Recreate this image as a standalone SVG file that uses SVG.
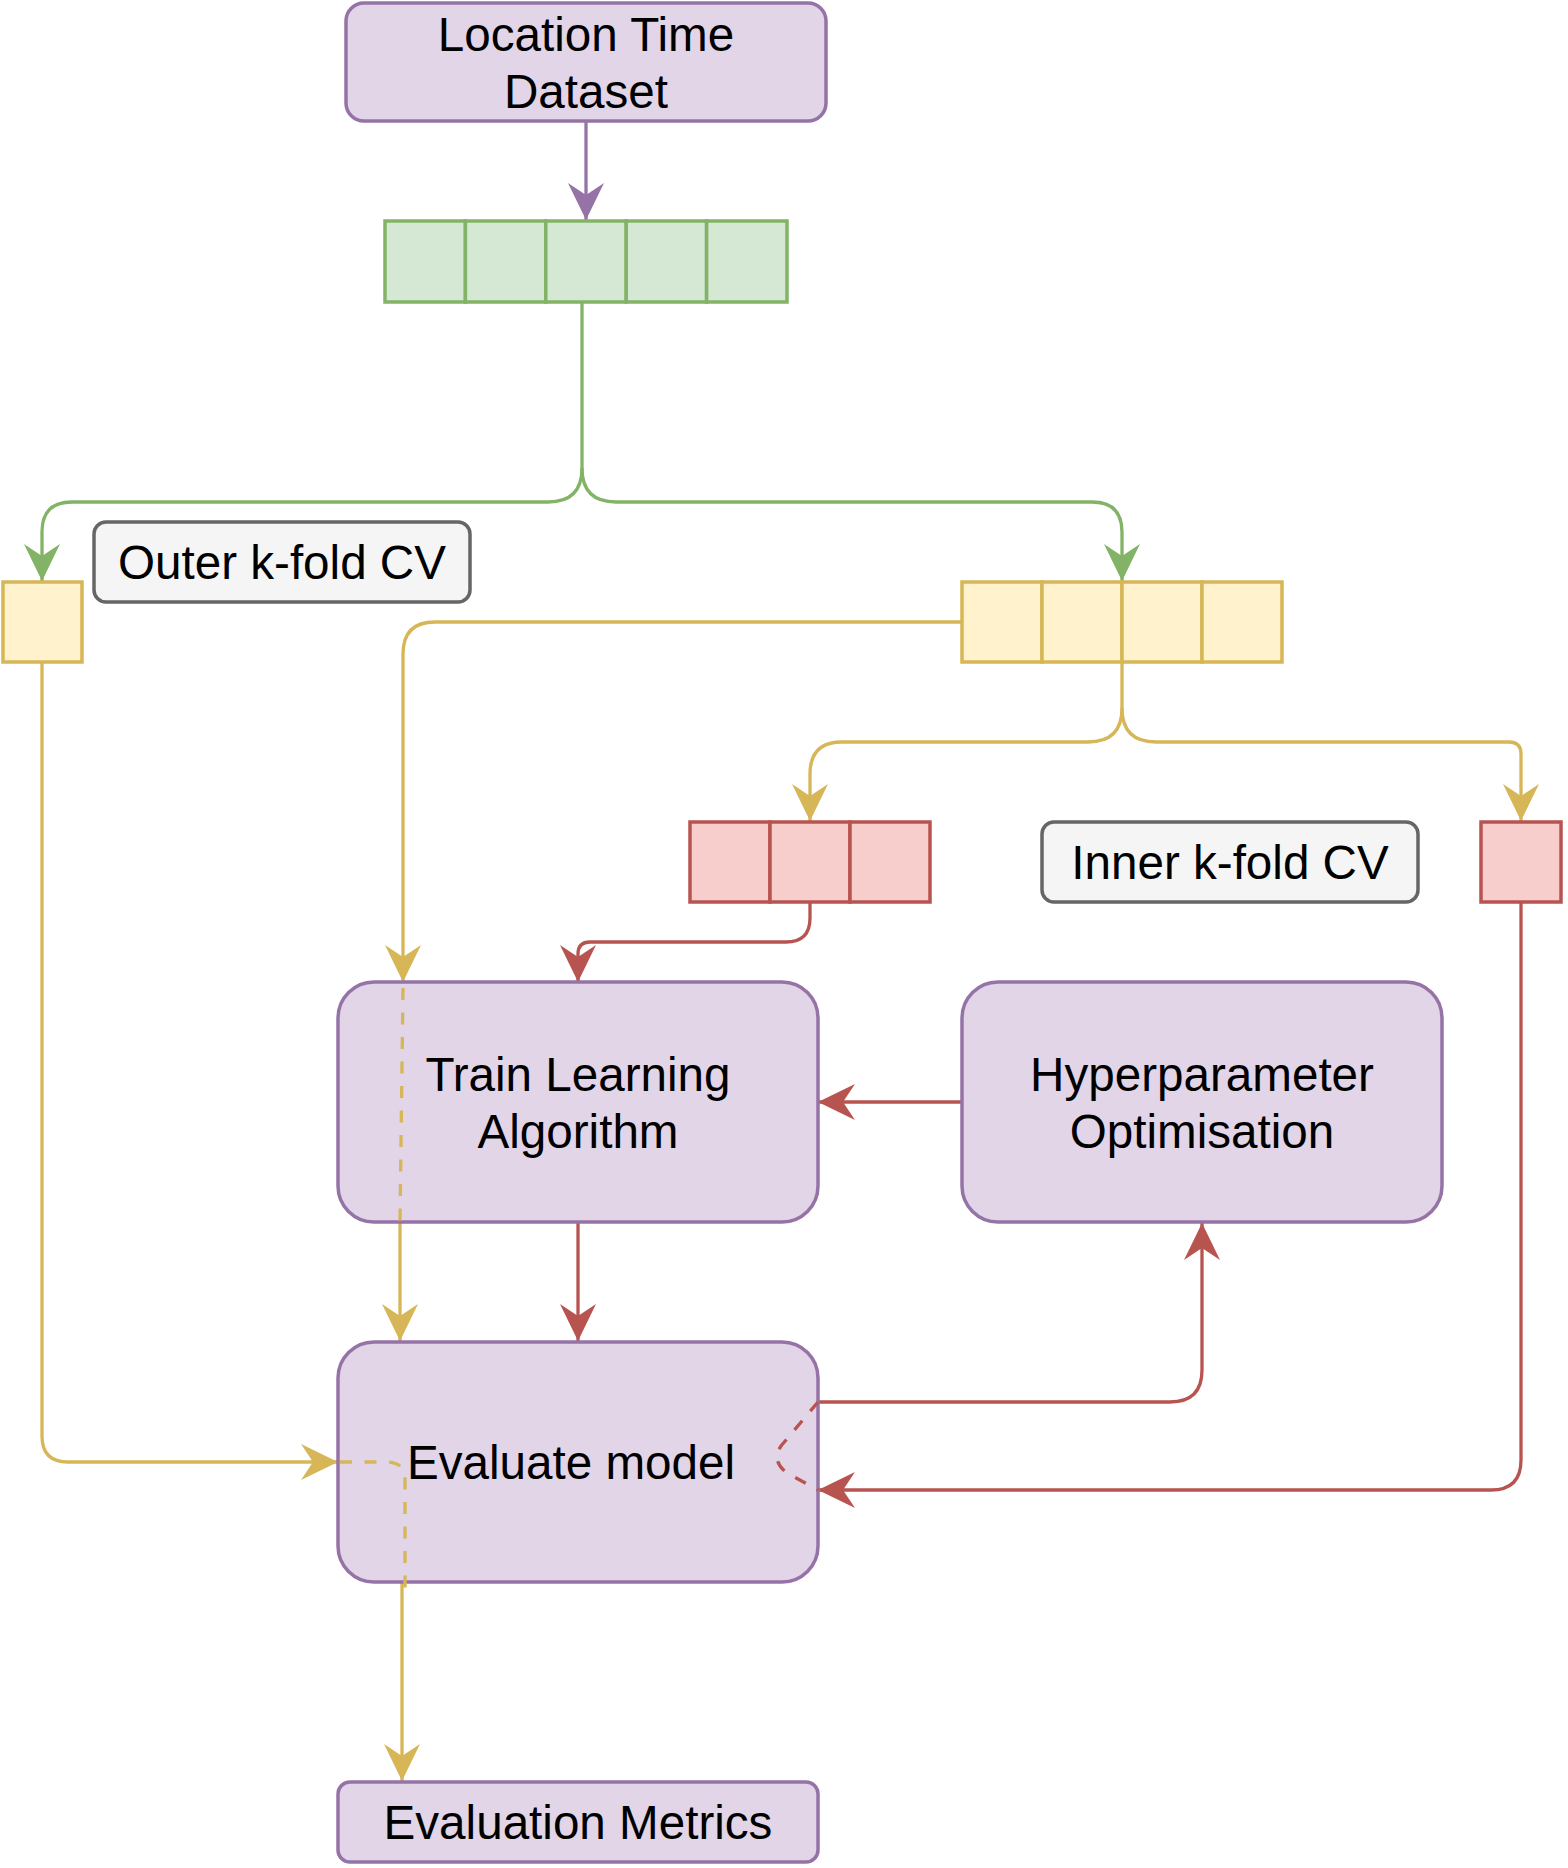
<svg xmlns="http://www.w3.org/2000/svg" width="1568" height="1868" viewBox="0 0 1568 1868">
<style>
.pn{fill:#e1d5e7;stroke:#9673a6;stroke-width:3.5}
.gn{fill:#d5e8d4;stroke:#82b366;stroke-width:3.5}
.yn{fill:#fff2cc;stroke:#d6b656;stroke-width:3.5}
.rn{fill:#f8cecc;stroke:#b85450;stroke-width:3.5}
.ln{fill:#f5f5f5;stroke:#666666;stroke-width:3.5}
.t{font-family:"Liberation Sans",Arial,Helvetica,sans-serif;font-size:47.6px;fill:#000;text-anchor:middle}
.e{fill:none;stroke-width:3.3}
.eg{stroke:#82b366}
.ey{stroke:#d6b656}
.er{stroke:#b85450}
.ep{stroke:#9673a6}
.d{stroke-dasharray:12 12.5}
</style>
<defs>
<marker id="aP" markerUnits="userSpaceOnUse" markerWidth="40" markerHeight="40" refX="0" refY="0" orient="auto" overflow="visible"><path d="M0,0 L-37,-18 L-25,0 L-37,18 Z" fill="#9673a6"/></marker>
<marker id="aG" markerUnits="userSpaceOnUse" markerWidth="40" markerHeight="40" refX="0" refY="0" orient="auto" overflow="visible"><path d="M0,0 L-37,-18 L-25,0 L-37,18 Z" fill="#82b366"/></marker>
<marker id="aY" markerUnits="userSpaceOnUse" markerWidth="40" markerHeight="40" refX="0" refY="0" orient="auto" overflow="visible"><path d="M0,0 L-37,-18 L-25,0 L-37,18 Z" fill="#d6b656"/></marker>
<marker id="aR" markerUnits="userSpaceOnUse" markerWidth="40" markerHeight="40" refX="0" refY="0" orient="auto" overflow="visible"><path d="M0,0 L-37,-18 L-25,0 L-37,18 Z" fill="#b85450"/></marker>
</defs>

<g id="connectors">
<path class="e ep" d="M586,122 L586,220" marker-end="url(#aP)"/>
<path class="e eg" d="M582,302 L582,468 Q582,502 548,502 L72,502 Q42,502 42,532 L42,581" marker-end="url(#aG)"/>
<path class="e eg" d="M582,468 Q582,502 616,502 L1092,502 Q1122,502 1122,532 L1122,581" marker-end="url(#aG)"/>
<path class="e ey" d="M962,622 L435,622 Q403,622 403,654 L403,982" marker-end="url(#aY)"/>
<path class="e ey" d="M400,1222 L400,1341" marker-end="url(#aY)"/>
<path class="e ey" d="M1122,662 L1122,708 Q1122,742 1088,742 L842,742 Q810,742 810,774 L810,821" marker-end="url(#aY)"/>
<path class="e ey" d="M1122,708 Q1122,742 1156,742 L1509,742 Q1521,742 1521,754 L1521,821" marker-end="url(#aY)"/>
<path class="e er" d="M810,902 L810,918 Q810,942 786,942 L590,942 Q578,942 578,954 L578,982" marker-end="url(#aR)"/>
<path class="e er" d="M961,1102 L818,1102" marker-end="url(#aR)"/>
<path class="e er" d="M578,1222 L578,1341" marker-end="url(#aR)"/>
<path class="e er" d="M818,1402 L1170,1402 Q1202,1402 1202,1370 L1202,1223" marker-end="url(#aR)"/>
<path class="e er" d="M1521,902 L1521,1460 Q1521,1490 1491,1490 L818,1490" marker-end="url(#aR)"/>
<path class="e ey" d="M42,662 L42,1436 Q42,1462 68,1462 L338,1462" marker-end="url(#aY)"/>
<path class="e ey" d="M402,1583 L402,1781" marker-end="url(#aY)"/>
</g>

<g id="dataset"><rect class="pn" x="346" y="3" width="480" height="118" rx="18"/>
<text class="t" x="586" y="51">Location Time</text><text class="t" x="586" y="108">Dataset</text></g>

<g id="green-folds">
<rect class="gn" x="385" y="221" width="80.4" height="81"/>
<rect class="gn" x="465.4" y="221" width="80.4" height="81"/>
<rect class="gn" x="545.8" y="221" width="80.4" height="81"/>
<rect class="gn" x="626.2" y="221" width="80.4" height="81"/>
<rect class="gn" x="706.6" y="221" width="80.4" height="81"/>
</g>

<g id="outer-test"><rect class="yn" x="3" y="582" width="79" height="80"/></g>
<g id="outer-label"><rect class="ln" x="94" y="522" width="376" height="80" rx="12"/>
<text class="t" x="282" y="579">Outer k-fold CV</text></g>

<g id="yellow-folds">
<rect class="yn" x="962" y="582" width="80" height="80"/>
<rect class="yn" x="1042" y="582" width="80" height="80"/>
<rect class="yn" x="1122" y="582" width="80" height="80"/>
<rect class="yn" x="1202" y="582" width="80" height="80"/>
</g>

<g id="red-folds">
<rect class="rn" x="690" y="822" width="80" height="80"/>
<rect class="rn" x="770" y="822" width="80" height="80"/>
<rect class="rn" x="850" y="822" width="80" height="80"/>
</g>
<g id="inner-label"><rect class="ln" x="1042" y="822" width="376" height="80" rx="12"/>
<text class="t" x="1230" y="879">Inner k-fold CV</text></g>
<g id="inner-test"><rect class="rn" x="1481" y="822" width="80" height="80"/></g>

<g id="train"><rect class="pn" x="338" y="982" width="480" height="240" rx="36"/>
<text class="t" x="578" y="1091">Train Learning</text><text class="t" x="578" y="1148">Algorithm</text></g>

<g id="hyper"><rect class="pn" x="962" y="982" width="480" height="240" rx="36"/>
<text class="t" x="1202" y="1091">Hyperparameter</text><text class="t" x="1202" y="1148">Optimisation</text></g>

<g id="evaluate"><rect class="pn" x="338" y="1342" width="480" height="240" rx="36"/>
<text class="t" x="571" y="1479">Evaluate model</text></g>

<g id="connectors-overlay">
<path class="e ey d" d="M403,988 L400,1222"/>
<path class="e ey d" d="M340,1462 L387,1462 Q405,1462 405,1480 L405,1590"/>
<path class="e er d" d="M818,1402 L781,1446 Q771,1461 787,1473 L818,1490"/>
</g>

<g id="metrics"><rect class="pn" x="338" y="1782" width="480" height="80" rx="12"/>
<text class="t" x="578" y="1839">Evaluation Metrics</text></g>
</svg>
